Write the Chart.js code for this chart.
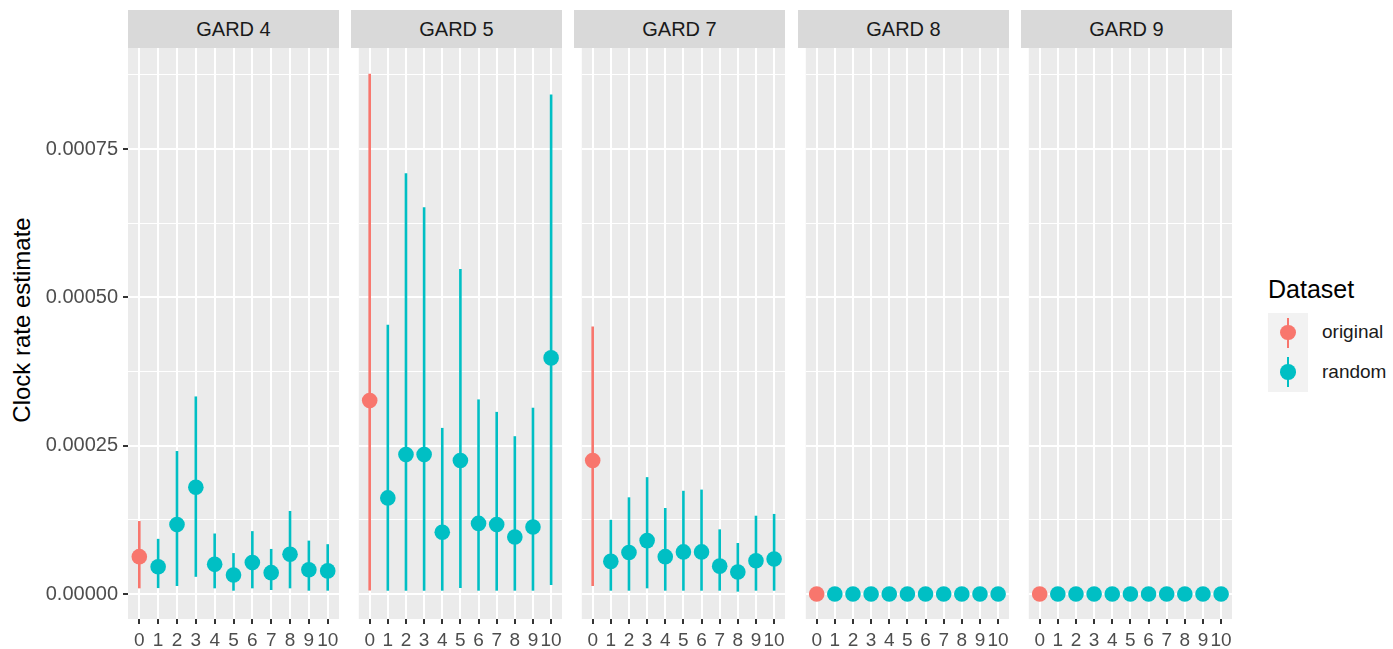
<!DOCTYPE html>
<html>
<head>
<meta charset="utf-8">
<script src="https://cdn.jsdelivr.net/npm/chart.js@4.4.1/dist/chart.umd.min.js"></script>
<style>
    body { margin: 0; background: #fff; font-family: "Liberation Sans", Arial, sans-serif; }
    #wrap { position: relative; width: 1393px; height: 649px; overflow: hidden; }
    #wrap canvas { position: absolute; top: 0; }
    .strip { position: absolute; top: 10px; height: 38px; background: #D9D9D9; color: #1A1A1A;
             font-size: 20px; line-height: 38px; text-align: center; }
    #ytitle { position: absolute; left: -128px; top: 306px; width: 300px; height: 28px; line-height: 28px;
              text-align: center; font-size: 24px; color: #000; transform: rotate(-90deg); }
    #legendTitle { position: absolute; left: 1268px; top: 275px; font-size: 25px; line-height: 28px; color: #000; }
    .key { position: absolute; left: 1268px; width: 40px; height: 39.5px; background: #F2F2F2; }
    .key .bar { position: absolute; left: 18.7px; top: 4.5px; width: 2.6px; height: 30px; }
    .key .dot { position: absolute; left: 12.2px; top: 11.7px; width: 15.6px; height: 15.6px; border-radius: 50%; }
    .keyLabel { position: absolute; left: 1322px; font-size: 19px; line-height: 22px; color: #1A1A1A; }
</style>
</head>
<body>
<div id="wrap">
    <div id="ytitle">Clock rate estimate</div>
    <div id="legendTitle">Dataset</div>
    <div class="key" style="top:313px"><div class="bar" style="background:#F8766D"></div><div class="dot" style="background:#F8766D"></div></div>
    <div class="key" style="top:352.5px"><div class="bar" style="background:#00BFC4"></div><div class="dot" style="background:#00BFC4"></div></div>
    <div class="keyLabel" style="top:321px">original</div>
    <div class="keyLabel" style="top:361px">random</div>
</div>
<script>
// facets and x categories (0 = original, 1..10 = randomised)
const panelNames = ['GARD 4', 'GARD 5', 'GARD 7', 'GARD 8', 'GARD 9'];
const categories = [0, 1, 2, 3, 4, 5, 6, 7, 8, 9, 10];
const seriesNames = ['original', 'random'];

const gard4Estimate = [0.000063, 0.000046, 0.000117, 0.000180, 0.000050, 0.000032, 0.000053, 0.000036, 0.000067, 0.000041, 0.000039];
const gard4Lower    = [0.0000096, 0.000010, 0.0000135, 0.000029, 0.0000096, 0.0000056, 0.0000096, 0.0000068, 0.0000096, 0.0000056, 0.0000056];
const gard4Upper    = [0.000123, 0.000093, 0.000241, 0.000333, 0.000102, 0.000069, 0.000106, 0.000076, 0.000140, 0.000090, 0.000084];

const gard5Estimate = [0.000326, 0.000162, 0.000235, 0.000235, 0.000104, 0.000225, 0.000119, 0.000117, 0.000096, 0.000113, 0.000398];
const gard5Lower    = [0.000006, 0.0000056, 0.0000056, 0.0000056, 0.0000056, 0.000010, 0.0000056, 0.0000056, 0.0000056, 0.0000056, 0.000015];
const gard5Upper    = [0.000877, 0.000454, 0.000709, 0.000652, 0.000280, 0.000548, 0.000328, 0.000307, 0.000266, 0.000314, 0.000842];

const gard7Estimate = [0.000225, 0.000055, 0.000070, 0.000090, 0.000063, 0.000071, 0.000071, 0.000047, 0.000037, 0.000056, 0.000059];
const gard7Lower    = [0.0000135, 0.0000056, 0.0000056, 0.0000096, 0.0000056, 0.0000056, 0.0000056, 0.0000056, 0.000004, 0.0000056, 0.0000056];
const gard7Upper    = [0.000451, 0.000125, 0.000163, 0.000197, 0.000145, 0.000174, 0.000176, 0.000109, 0.000086, 0.000132, 0.000135];

const gard8Estimate = [0, 0, 0, 0, 0, 0, 0, 0, 0, 0, 0];
const gard8Lower    = [0, 0, 0, 0, 0, 0, 0, 0, 0, 0, 0];
const gard8Upper    = [0, 0, 0, 0, 0, 0, 0, 0, 0, 0, 0];

const gard9Estimate = [0, 0, 0, 0, 0, 0, 0, 0, 0, 0, 0];
const gard9Lower    = [0, 0, 0, 0, 0, 0, 0, 0, 0, 0, 0];
const gard9Upper    = [0, 0, 0, 0, 0, 0, 0, 0, 0, 0, 0];

const yMajorTicks = [0, 0.00025, 0.0005, 0.00075];
const yMinorTicks = [0.000125, 0.000375, 0.000625, 0.000875];

// layout
const panelLefts = [128, 351, 574, 798, 1021];
const panelWidth = 211;
const axisWidth = 128;
const colors = { original: '#F8766D', random: '#00BFC4' };
const yMin = -0.0000421;
const yMax = 0.0009203;

Chart.defaults.font.family = '"Liberation Sans", Arial, sans-serif';

// panel background
const panelBackground = {
    id: 'panelBackground',
    beforeDraw(chart) {
        const a = chart.chartArea;
        const ctx = chart.ctx;
        ctx.save();
        ctx.fillStyle = '#EBEBEB';
        ctx.fillRect(a.left, a.top, a.right - a.left, a.bottom - a.top);
        ctx.restore();
    }
};

// vertical intervals drawn under the points
const errorBars = {
    id: 'errorBars',
    beforeDatasetsDraw(chart) {
        const ctx = chart.ctx;
        const y = chart.scales.y;
        ctx.save();
        chart.data.datasets.forEach((ds, i) => {
            const meta = chart.getDatasetMeta(i);
            ctx.strokeStyle = ds.backgroundColor;
            ctx.lineWidth = 2.6;
            meta.data.forEach((el, j) => {
                const d = ds.data[j];
                ctx.beginPath();
                ctx.moveTo(el.x, y.getPixelForValue(d.lo));
                ctx.lineTo(el.x, y.getPixelForValue(d.hi));
                ctx.stroke();
            });
        });
        ctx.restore();
    }
};

function makePoints(est, lo, hi, from, to) {
    const pts = [];
    for (let k = from; k < to; k++) {
        pts.push({ x: categories[k], y: est[k], lo: lo[k], hi: hi[k] });
    }
    return pts;
}

function makePanel(i, est, lo, hi) {
    const wrap = document.getElementById('wrap');
    const first = i === 0;

    const strip = document.createElement('div');
    strip.className = 'strip';
    strip.style.left = panelLefts[i] + 'px';
    strip.style.width = panelWidth + 'px';
    strip.textContent = panelNames[i];
    wrap.appendChild(strip);

    const canvas = document.createElement('canvas');
    const w = (first ? axisWidth : 0) + panelWidth + 8;
    canvas.width = w;
    canvas.height = 649;
    canvas.style.width = w + 'px';
    canvas.style.height = '649px';
    canvas.style.left = (first ? 0 : panelLefts[i]) + 'px';
    wrap.appendChild(canvas);

    new Chart(canvas.getContext('2d'), {
        type: 'scatter',
        data: {
            datasets: [{
                label: seriesNames[0],
                data: makePoints(est, lo, hi, 0, 1),
                backgroundColor: colors.original
            }, {
                label: seriesNames[1],
                data: makePoints(est, lo, hi, 1, categories.length),
                backgroundColor: colors.random
            }]
        },
        options: {
            responsive: false,
            animation: false,
            events: [],
            elements: { point: { radius: 7.8, borderWidth: 0 } },
            layout: { padding: { top: 48, right: 8, left: 0, bottom: 0 } },
            plugins: { legend: { display: false }, tooltip: { enabled: false } },
            scales: {
                x: {
                    type: 'linear',
                    min: -0.6,
                    max: 10.6,
                    afterBuildTicks: s => { s.ticks = categories.map(v => ({ value: v })); },
                    afterFit: s => { s.height = 30; },
                    border: { display: false },
                    grid: { color: '#FFFFFF', lineWidth: 2, tickColor: '#333333', tickLength: 5, tickWidth: 2 },
                    ticks: {
                        color: '#4D4D4D', font: { size: 19 }, padding: 5,
                        autoSkip: false, maxRotation: 0, minRotation: 0,
                        callback: v => String(v)
                    }
                },
                y: {
                    type: 'linear',
                    min: yMin,
                    max: yMax,
                    afterBuildTicks: s => {
                        s.ticks = yMajorTicks.concat(yMinorTicks).sort((a, b) => a - b).map(v => ({ value: v }));
                    },
                    afterFit: s => { s.width = first ? axisWidth : 0; },
                    border: { display: false },
                    grid: {
                        color: '#FFFFFF',
                        lineWidth: c => yMajorTicks.includes(c.tick.value) ? 2 : 1,
                        drawTicks: first,
                        tickColor: c => yMajorTicks.includes(c.tick.value) ? '#333333' : 'rgba(0,0,0,0)',
                        tickLength: 5,
                        tickWidth: 2
                    },
                    ticks: {
                        display: first,
                        autoSkip: false,
                        color: '#4D4D4D',
                        font: { size: 20 },
                        padding: 5,
                        callback: v => yMajorTicks.includes(v) ? v.toFixed(5) : ''
                    }
                }
            }
        },
        plugins: [panelBackground, errorBars]
    });
}

makePanel(0, gard4Estimate, gard4Lower, gard4Upper);
makePanel(1, gard5Estimate, gard5Lower, gard5Upper);
makePanel(2, gard7Estimate, gard7Lower, gard7Upper);
makePanel(3, gard8Estimate, gard8Lower, gard8Upper);
makePanel(4, gard9Estimate, gard9Lower, gard9Upper);
</script>
</body>
</html>
